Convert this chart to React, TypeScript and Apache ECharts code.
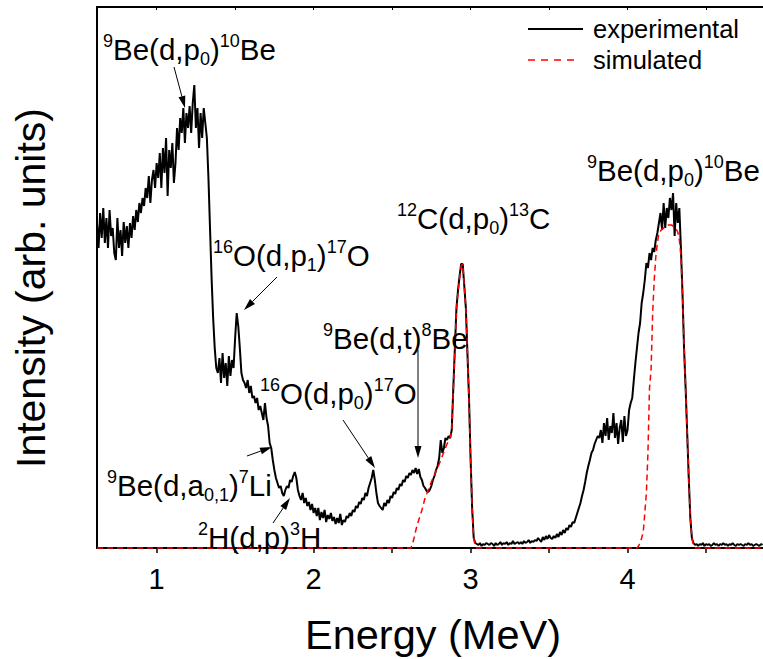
import React, { useEffect, useRef } from 'react';
import * as echarts from 'echarts';

// Channel calibration of the measured spectrum (MeV)
const ENERGY_START = 0.62;
const ENERGY_STEP = 0.01;

// Experimental spectrum, one value per channel (arb. units)
const experimental = [
  325, 300, 335, 310, 340, 305, 330, 300, 338, 312,
  320, 295, 288, 330, 300, 318, 292, 326, 305, 322,
  300, 325, 310, 332, 318, 338, 326, 345, 335, 350,
  342, 360, 350, 372, 345, 368, 378, 360, 385, 370,
  395, 360, 400, 375, 410, 352, 398, 380, 405, 365,
  385, 420, 398, 430, 415, 440, 405, 435, 420, 442,
  415, 445, 463, 420, 440, 400, 435, 410, 440, 425,
  410, 370, 320, 270, 230, 200, 180, 175, 190, 165,
  195, 170, 185, 162, 192, 172, 188, 180, 210, 235,
  222, 200, 175, 168, 165, 160, 168, 155, 162, 150,
  152, 145, 150, 138, 142, 135, 128, 145, 130, 122,
  105, 100, 88, 78, 70, 65, 60, 62, 55, 52,
  58, 62, 60, 68, 66, 72, 76, 70, 58, 52,
  48, 55, 45, 50, 42, 46, 38, 44, 35, 40,
  32, 40, 28, 36, 30, 38, 26, 33, 29, 35,
  27, 31, 24, 30, 25, 34, 23, 28, 26, 32,
  30, 35, 32, 38, 36, 42, 40, 46, 44, 50,
  48, 55, 52, 60, 65, 70, 78, 68, 55, 45,
  42, 40, 38, 45, 42, 48, 45, 52, 50, 56,
  54, 60, 58, 64, 62, 68, 66, 72, 70, 75,
  73, 78, 75, 80, 74, 79, 71, 68, 62, 60,
  57, 56, 58, 62, 68, 72, 78, 82, 90, 108,
  95, 100, 110, 108, 112, 110, 118, 160, 200, 240,
  258, 272, 284, 284, 262, 240, 195, 150, 90, 40,
  10, 5, 4, 3, 5, 2, 4, 3, 5, 4,
  3, 5, 4, 2, 5, 3, 4, 6, 3, 5,
  4, 6, 3, 5, 4, 7, 4, 5, 6, 4,
  6, 4, 7, 5, 6, 8, 5, 7, 6, 8,
  7, 10, 8, 6, 11, 8, 12, 9, 13, 10,
  9, 12, 10, 14, 11, 16, 13, 18, 15, 20,
  18, 23, 21, 26, 25, 30, 35, 40, 45, 52,
  58, 66, 75, 82, 88, 95, 98, 104, 108, 112,
  110, 118, 105, 125, 112, 130, 108, 122, 115, 135,
  110, 125, 104, 120, 128, 106, 132, 112, 118, 138,
  145, 150, 168, 185, 200, 215, 225, 245, 255, 268,
  285, 280, 295, 288, 300, 296, 308, 315, 325, 335,
  318, 345, 320, 340, 330, 350, 338, 355, 312, 345,
  325, 340, 300, 255, 200, 160, 115, 70, 30, 10,
  5, 3, 4, 2, 4, 3, 5, 2, 4, 3,
  4, 2, 3, 5, 3, 4, 2, 4, 3, 5,
  3, 4, 2, 4, 3, 5, 3, 2, 4, 3,
  4, 3, 2, 4, 3, 5, 3, 4, 2, 3,
  4, 3, 2, 4, 3,
];

// Simulated spectrum (breakpoints, MeV / arb. units)
const simEnergy = [
  0.62, 2.62, 2.63, 2.64, 2.65, 2.66, 2.67, 2.68, 2.69, 2.70,
  2.71, 2.72, 2.73, 2.74, 2.75, 2.76, 2.77, 2.78, 2.79, 2.80,
  2.81, 2.82, 2.83, 2.84, 2.85, 2.86, 2.87, 2.88, 2.89, 2.90,
  2.91, 2.92, 2.93, 2.94, 2.95, 2.96, 2.97, 2.98, 2.99, 3.00,
  3.01, 3.02, 3.03, 3.04, 4.06, 4.07, 4.08, 4.09, 4.10, 4.11,
  4.12, 4.13, 4.14, 4.15, 4.16, 4.17, 4.18, 4.19, 4.20, 4.21,
  4.22, 4.23, 4.24, 4.25, 4.26, 4.27, 4.28, 4.29, 4.30, 4.31,
  4.32, 4.33, 4.34, 4.35, 4.36, 4.37, 4.38, 4.39, 4.40, 4.41,
  4.42, 4.43, 4.86,
];
const simIntensity = [
  0, 0, 4, 10, 17, 23, 28, 33, 38, 44,
  50, 54, 58, 62, 66, 70, 73, 77, 80, 84,
  88, 92, 96, 100, 104, 107, 111, 118, 158, 198,
  238, 256, 270, 282, 284, 262, 238, 195, 148, 88,
  38, 10, 2, 0, 0, 2, 5, 10, 16, 35,
  55, 95, 160, 178, 235, 268, 291, 305, 315, 317,
  319, 320, 321, 322, 323, 323, 323, 322, 321, 319,
  316, 308, 292, 255, 200, 160, 115, 70, 30, 10,
  3, 0, 0,
];

const xTickValues = [1, 1.5, 2, 2.5, 3, 3.5, 4, 4.5];
const xLabelValues = [1, 2, 3, 4];
const xTitle = 'Energy (MeV)';
const yTitle = 'Intensity (arb. units)';
const seriesNames = ['experimental', 'simulated'];

const annotationTexts = [
  '{sup|9}{m|Be(d,p}{sub|0}{m|)}{sup|10}{m|Be}',
  '{sup|16}{m|O(d,p}{sub|1}{m|)}{sup|17}{m|O}',
  '{sup|9}{m|Be(d,t)}{sup|8}{m|Be}',
  '{sup|16}{m|O(d,p}{sub|0}{m|)}{sup|17}{m|O}',
  '{sup|12}{m|C(d,p}{sub|0}{m|)}{sup|13}{m|C}',
  '{sup|9}{m|Be(d,p}{sub|0}{m|)}{sup|10}{m|Be}',
  '{sup|9}{m|Be(d,a}{sub|0,1}{m|)}{sup|7}{m|Li}',
  '{sup|2}{m|H(d,p)}{sup|3}{m|H}',
];
// [left, cap top] in pixels
const annotationPos = [
  [103, 39], [213, 245], [323, 328], [260, 383],
  [397, 208], [587, 160], [107, 475], [198, 527],
];
// arrows [x1, y1, x2 (tip), y2 (tip)] in pixels
const arrowPos = [
  [174, 67, 185, 108],
  [277, 277, 244, 310],
  [418, 350, 418, 458],
  [343, 420, 375, 468],
  [247, 456, 272, 447],
  [273, 523, 290, 498],
];

const FONT = '"Liberation Sans", Arial, Helvetica, sans-serif';

export default function App() {
  const ref = useRef<HTMLDivElement>(null);
  useEffect(() => {
    if (!ref.current) return;
    const chart = echarts.init(ref.current, undefined, { renderer: 'svg' });
    const expData = experimental.map((v, i) => [
      +(ENERGY_START + i * ENERGY_STEP).toFixed(2),
      v,
    ]);
    const simData = simEnergy.map((e, i) => [e, simIntensity[i]]);

    const xMin = 0.62;
    const xMax = 4.863;

    const graphics: any[] = [];
    const rich = {
      m: { fontSize: 29.5, lineHeight: 36, fontFamily: FONT, fill: '#000' },
      sup: { fontSize: 18, lineHeight: 10, verticalAlign: 'top', fontFamily: FONT, fill: '#000' },
      sub: { fontSize: 18, lineHeight: 6, verticalAlign: 'bottom', fontFamily: FONT, fill: '#000' },
    };
    annotationTexts.forEach((t, k) => {
      graphics.push({
        type: 'text',
        x: annotationPos[k][0],
        y: annotationPos[k][1] - 7.3,
        z: 10,
        style: {
          text: t,
          rich,
          fontSize: 29.5,
          fontFamily: FONT,
          fill: '#000',
          align: 'left',
          textAlign: 'left',
          verticalAlign: 'top',
          textVerticalAlign: 'top',
        },
      });
    });
    arrowPos.forEach(([x1, y1, x2, y2]) => {
      const a = Math.atan2(y2 - y1, x2 - x1);
      const L = 12;
      const W = 3.5;
      const bx = x2 - L * Math.cos(a);
      const by = y2 - L * Math.sin(a);
      const nx = -Math.sin(a);
      const ny = Math.cos(a);
      graphics.push({
        type: 'line',
        z: 10,
        shape: { x1, y1, x2: bx, y2: by },
        style: { stroke: '#000', lineWidth: 1 },
      });
      graphics.push({
        type: 'polygon',
        z: 10,
        shape: {
          points: [
            [x2, y2],
            [bx + W * nx, by + W * ny],
            [bx - W * nx, by - W * ny],
          ],
        },
        style: { fill: '#000' },
      });
    });
    // legend
    graphics.push({
      type: 'line',
      shape: { x1: 528, y1: 29, x2: 583, y2: 29 },
      style: { stroke: '#000', lineWidth: 2 },
    });
    graphics.push({
      type: 'line',
      shape: { x1: 528, y1: 60, x2: 580, y2: 60 },
      style: { stroke: '#ff0000', lineWidth: 1.5, lineDash: [7, 6] },
    });
    seriesNames.forEach((n, k) => {
      graphics.push({
        type: 'text',
        x: 593,
        y: 29 + k * 31,
        style: {
          text: n,
          fontSize: 25.5,
          fontFamily: FONT,
          fill: '#000',
          align: 'left',
          textAlign: 'left',
          verticalAlign: 'middle',
          textVerticalAlign: 'middle',
        },
      });
    });
    // axis titles
    graphics.push({
      type: 'text',
      x: 433,
      y: 634,
      style: {
        text: xTitle,
        fontSize: 41.5,
        fontFamily: FONT,
        fill: '#000',
        align: 'center',
        textAlign: 'center',
        verticalAlign: 'middle',
        textVerticalAlign: 'middle',
      },
    });
    graphics.push({
      type: 'text',
      x: 31,
      y: 288,
      rotation: Math.PI / 2,
      style: {
        text: yTitle,
        fontSize: 41,
        fontFamily: FONT,
        fill: '#000',
        align: 'center',
        textAlign: 'center',
        verticalAlign: 'middle',
        textVerticalAlign: 'middle',
      },
    });

    chart.setOption({
      animation: false,
      backgroundColor: '#fff',
      grid: { left: 97, top: 7, width: 670, height: 541, containLabel: false },
      xAxis: [
        {
          type: 'value',
          position: 'bottom',
          min: xMin,
          max: xMax,
          axisLine: { onZero: false, lineStyle: { color: '#000', width: 2 } },
          axisTick: {
            show: true,
            inside: false,
            length: 5,
            customValues: xTickValues,
            lineStyle: { color: '#000', width: 1.5 },
          },
          axisLabel: {
            show: true,
            customValues: xLabelValues,
            fontSize: 29,
            fontFamily: FONT,
            color: '#000',
            margin: 16,
            formatter: (v: number) => String(v),
          },
          splitLine: { show: false },
        },
        {
          type: 'value',
          position: 'top',
          min: xMin,
          max: xMax,
          axisLine: { onZero: false, lineStyle: { color: '#000', width: 2 } },
          axisTick: {
            show: true,
            inside: true,
            length: 3,
            customValues: xTickValues,
            lineStyle: { color: '#000', width: 1 },
          },
          axisLabel: { show: false },
          splitLine: { show: false },
        },
      ],
      yAxis: {
        type: 'value',
        min: 0,
        max: 541,
        axisLine: { show: true, onZero: false, lineStyle: { color: '#000', width: 2 } },
        axisTick: { show: false },
        axisLabel: { show: false },
        splitLine: { show: false },
      },
      series: [
        {
          name: seriesNames[0],
          type: 'line',
          xAxisIndex: 0,
          data: expData,
          showSymbol: false,
          symbol: 'none',
          clip: false,
          z: 3,
          lineStyle: { color: '#000', width: 2 },
        },
        {
          name: seriesNames[1],
          type: 'line',
          xAxisIndex: 0,
          data: simData,
          showSymbol: false,
          symbol: 'none',
          clip: false,
          z: 4,
          lineStyle: { color: '#ff0000', width: 1.5, type: [6, 4] },
        },
      ],
      graphic: graphics,
    });
    return () => chart.dispose();
  }, []);
  return (
    <div
      ref={ref}
      style={{ position: 'fixed', left: 0, top: 0, width: 763, height: 659, background: '#fff' }}
    />
  );
}
